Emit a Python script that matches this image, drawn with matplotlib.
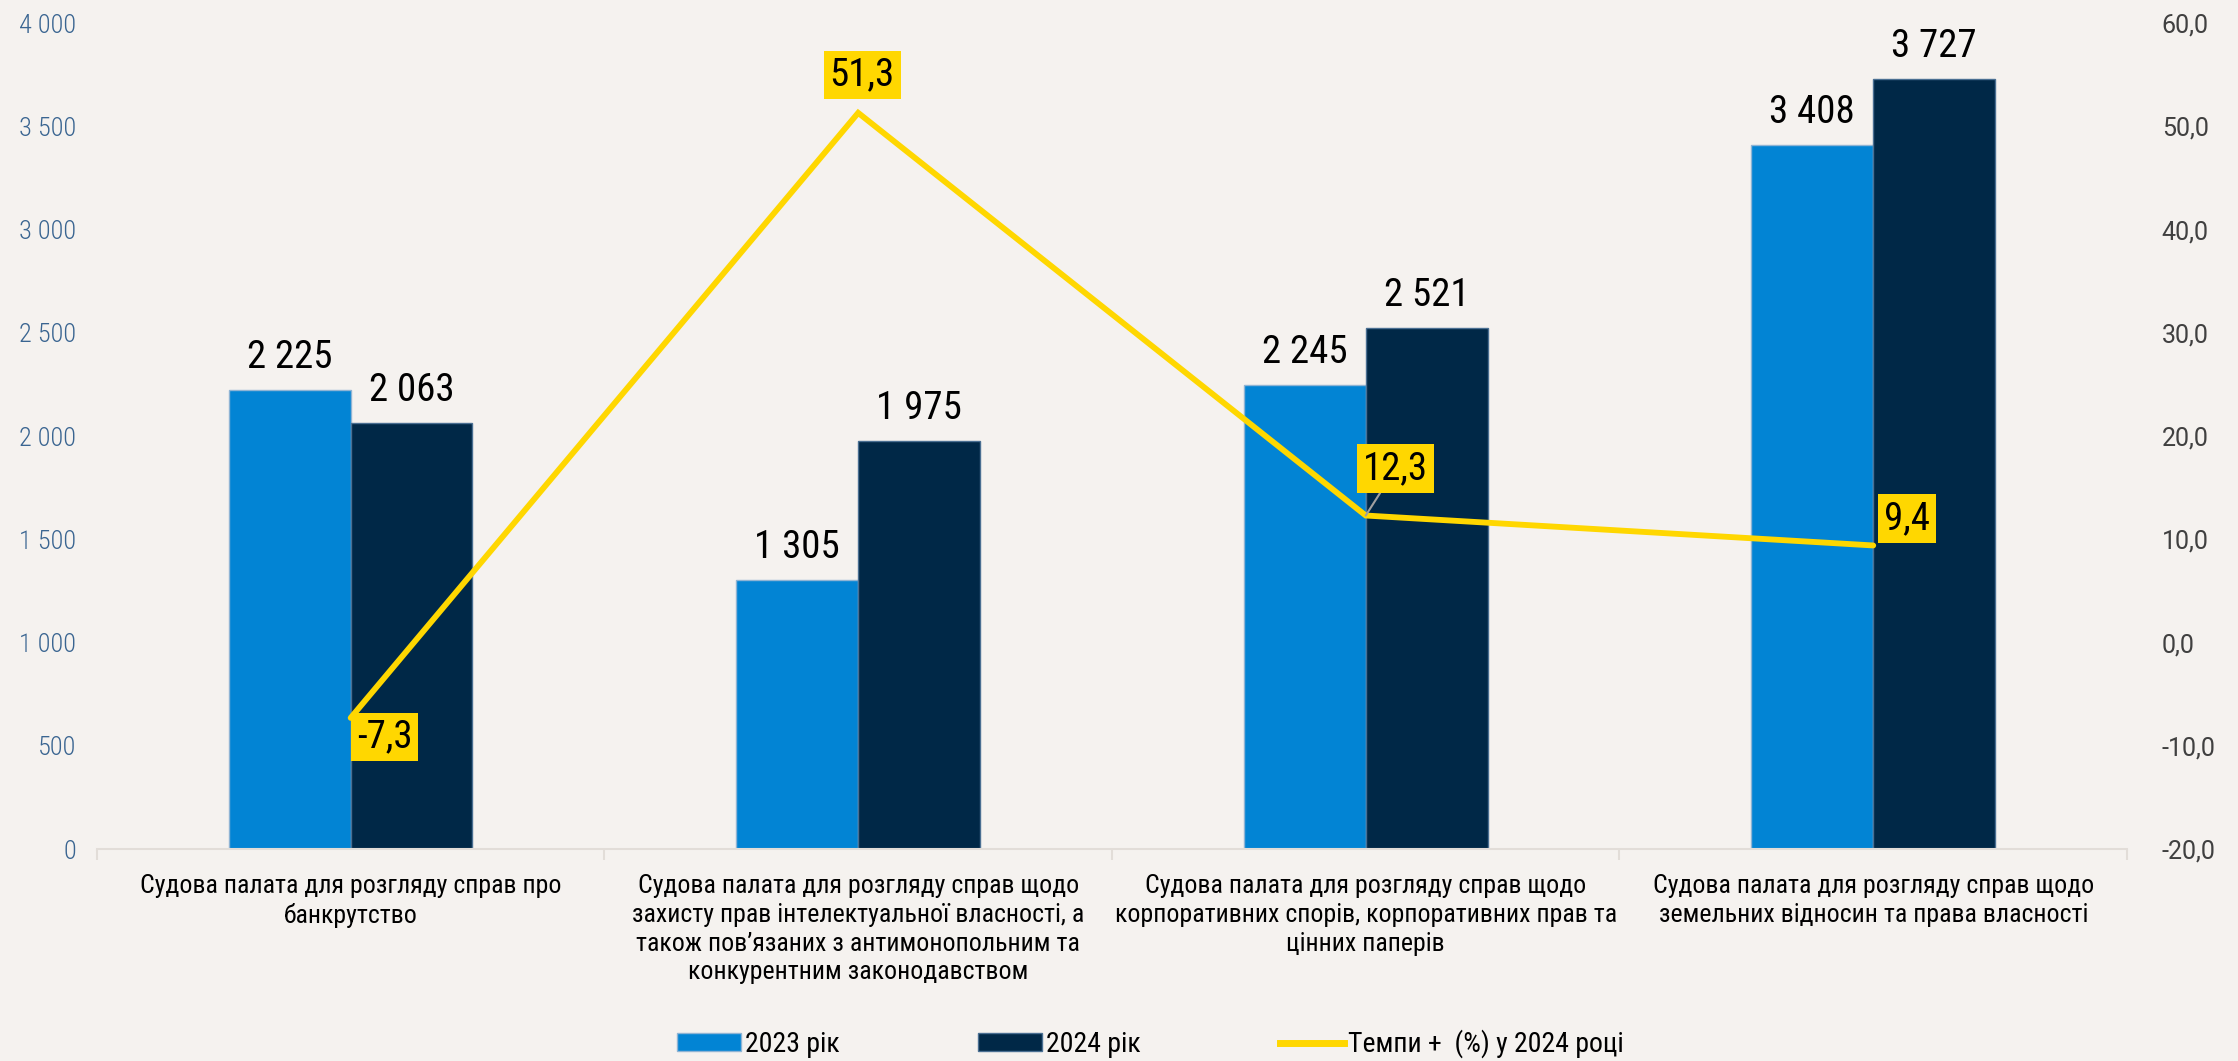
import matplotlib
matplotlib.use("Agg")
import matplotlib.pyplot as plt
import numpy as np
from matplotlib.patches import Patch
from matplotlib.lines import Line2D
from matplotlib.ticker import FuncFormatter, MultipleLocator

categories = [
    "Судова палата для розгляду справ про\nбанкрутство",
    "Судова палата для розгляду справ щодо\nзахисту прав інтелектуальної власності, а\nтакож пов’язаних з антимонопольним та\nконкурентним законодавством",
    "Судова палата для розгляду справ щодо\nкорпоративних спорів, корпоративних прав та\nцінних паперів",
    "Судова палата для розгляду справ щодо\nземельних відносин та права власності",
]
values_2023 = [2225, 1305, 2245, 3408]
values_2024 = [2063, 1975, 2521, 3727]
growth_2024 = [-7.3, 51.3, 12.3, 9.4]
series_names = ["2023 рік", "2024 рік", "Темпи +  (%) у 2024 році"]

COND = ["Roboto Condensed", "DejaVu Sans"]
REG = ["Roboto", "DejaVu Sans"]
BG = "#F5F2EF"
C23 = "#0284D4"
C24 = "#002847"
CY = "#FFD700"

def fmt_int(v):
    return f"{int(round(v)):,}".replace(",", " ")

def fmt_dec(v):
    return f"{v:.1f}".replace(".", ",")

fig = plt.figure(figsize=(22.38, 10.61), dpi=100, facecolor=BG)
ax = fig.add_axes([0.0433, 0.1998, 0.9071, 0.7785])
ax.set_facecolor(BG)
ax2 = ax.twinx()

x = np.arange(len(categories))
w = 0.24
b1 = ax.bar(x - w / 2, values_2023, w, color=C23, edgecolor="#8fb4d4", linewidth=1.0, zorder=2)
b2 = ax.bar(x + w / 2, values_2024, w, color=C24, edgecolor="#4a6f92", linewidth=1.0, zorder=2)

ax.set_xlim(-0.5, len(categories) - 0.5)
ax.set_ylim(0, 4000)
ax.yaxis.set_major_locator(MultipleLocator(500))
ax.yaxis.set_major_formatter(FuncFormatter(lambda v, p: fmt_int(v)))
ax.tick_params(axis="y", length=0, pad=15, labelsize=19, labelcolor="#3A6591")
for t in ax.get_yticklabels():
    t.set_fontfamily(COND)
    t.set_fontweight(300)

ax.set_xticks(x)
ax.set_xticklabels(categories, fontsize=18.6, family=COND, color="black", linespacing=1.25)
ax.set_xticks(np.arange(-0.5, len(categories)), minor=True)
ax.tick_params(axis="x", which="major", length=0, pad=18)
ax.tick_params(axis="x", which="minor", length=8, color="#E2DDD8", width=1.5)

for s in ["top", "right", "left"]:
    ax.spines[s].set_visible(False)
    ax2.spines[s].set_visible(False)
ax.spines["bottom"].set_color("#E2DDD8")
ax.spines["bottom"].set_linewidth(1.5)
ax2.spines["bottom"].set_visible(False)

# bar labels
for rects, vals in [(b1, values_2023), (b2, values_2024)]:
    for r, v in zip(rects, vals):
        ax.annotate(fmt_int(v), (r.get_x() + r.get_width() / 2, r.get_height()),
                    xytext=(0, 14), textcoords="offset pixels", ha="center", va="bottom",
                    fontsize=28, family=COND, color="black", zorder=5)

# line on secondary axis
ax2.set_ylim(-20, 60)
ax2.yaxis.set_major_locator(MultipleLocator(10))
ax2.yaxis.set_major_formatter(FuncFormatter(lambda v, p: fmt_dec(v)))
ax2.tick_params(axis="y", length=0, pad=25, labelsize=18, labelcolor="#404040")
for t in ax2.get_yticklabels():
    t.set_fontfamily(REG)
ax2.plot(x, growth_2024, color=CY, linewidth=4.2, solid_capstyle="round", solid_joinstyle="miter", zorder=4)

offsets = [(34, -19), (4, 38), (30, 47), (34, 27)]
for i, (xi, g) in enumerate(zip(x, growth_2024)):
    dx, dy = offsets[i]
    kw = {}
    if i == 2:
        kw["arrowprops"] = dict(arrowstyle="-", color="#A0A0A0", lw=1.5, shrinkA=0, shrinkB=0)
    ax2.annotate(fmt_dec(g), (xi, g), xytext=(dx, dy), textcoords="offset pixels",
                 ha="center", va="center", fontsize=28, family=COND, color="black",
                 bbox=dict(boxstyle="square,pad=0.15", facecolor=CY, edgecolor="none"),
                 zorder=6, **kw)

handles = [Patch(facecolor=C23, edgecolor="#8fb4d4"),
           Patch(facecolor=C24, edgecolor="#4a6f92"),
           Line2D([0], [0], color=CY, linewidth=5)]
leg = fig.legend(handles, series_names, loc="center", bbox_to_anchor=(0.514, 0.016), ncol=3,
                 frameon=False, prop={"family": COND, "size": 20}, handlelength=2.3,
                 handleheight=0.6, handletextpad=0.15, columnspacing=5.0)

fig.savefig("out.png", dpi=100, facecolor=BG)
